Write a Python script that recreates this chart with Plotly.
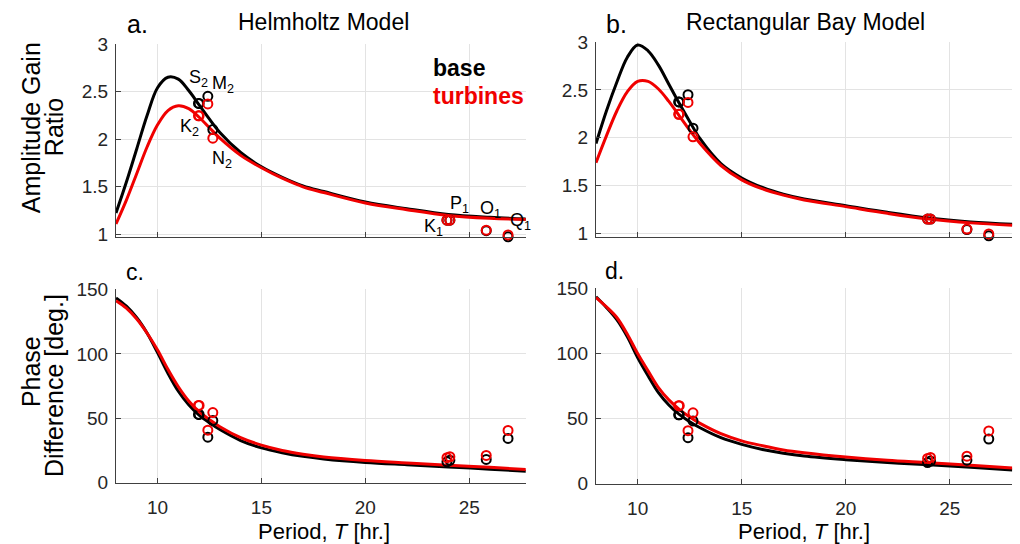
import plotly.graph_objects as go

# ---------------- data ----------------
T_curve = [8, 8.5, 9, 9.5, 10, 10.5, 11, 11.5, 12, 12.5, 13, 14, 15, 16, 17, 18, 20, 22, 24, 26, 28]

helm_amp_base = [1.225, 1.55, 1.90, 2.25, 2.54, 2.65, 2.63, 2.51, 2.36, 2.21, 2.07, 1.86, 1.71, 1.60, 1.51, 1.45, 1.34, 1.27, 1.21, 1.18, 1.16]
helm_amp_turb = [1.11, 1.36, 1.64, 1.92, 2.15, 2.30, 2.35, 2.32, 2.23, 2.12, 2.01, 1.83, 1.70, 1.59, 1.50, 1.44, 1.33, 1.26, 1.20, 1.17, 1.155]
rect_amp_base = [1.94, 2.28, 2.58, 2.84, 2.97, 2.91, 2.76, 2.56, 2.36, 2.17, 1.99, 1.73, 1.58, 1.48, 1.41, 1.36, 1.29, 1.22, 1.16, 1.12, 1.095]
rect_amp_turb = [1.74, 2.02, 2.28, 2.48, 2.59, 2.59, 2.51, 2.38, 2.23, 2.08, 1.94, 1.71, 1.56, 1.465, 1.40, 1.35, 1.28, 1.21, 1.15, 1.11, 1.085]

helm_ph_base = [143.4, 137.0, 128.0, 116.0, 101.0, 85.0, 71.0, 60.5, 52.5, 46.5, 41.3, 32.8, 27.1, 23.3, 20.5, 18.5, 15.8, 14.0, 12.3, 10.6, 8.8]
helm_ph_turb = [141.3, 135.5, 127.0, 116.0, 103.0, 88.0, 74.5, 63.5, 55.2, 49.0, 43.5, 35.0, 29.2, 25.1, 22.2, 20.0, 17.3, 15.4, 13.6, 12.0, 10.1]
rect_ph_base = [143.6, 135.4, 126.0, 113.0, 97.0, 83.0, 70.0, 60.5, 53.3, 47.7, 43.0, 35.4, 30.3, 26.4, 23.5, 21.3, 18.5, 16.3, 14.6, 12.8, 10.6]
rect_ph_turb = [143.0, 135.9, 127.7, 115.0, 100.0, 86.7, 73.8, 64.4, 57.2, 51.3, 46.4, 38.5, 33.0, 29.2, 26.0, 23.8, 20.5, 18.0, 16.2, 14.2, 12.2]

constituents = ["K2", "S2", "M2", "N2", "K1", "P1", "O1", "Q1"]
periods = [11.97, 12.00, 12.42, 12.66, 23.93, 24.07, 25.82, 26.87]
obs_amp_base = [2.375, 2.375, 2.45, 2.10, 1.15, 1.15, 1.04, 0.975]
obs_amp_turb = [2.245, 2.245, 2.37, 2.01, 1.15, 1.15, 1.045, 0.995]
obs_ph_base = [53.0, 53.0, 35.4, 48.3, 16.3, 17.5, 18.1, 34.4]
obs_ph_turb = [60.0, 60.0, 40.8, 54.5, 19.5, 20.2, 21.2, 40.6]

x_ticks = [10, 15, 20, 25]
amp_ticks = [1, 1.5, 2, 2.5, 3]
amp_tick_text = ["1", "1.5", "2", "2.5", "3"]
ph_ticks = [0, 50, 100, 150]

# ---------------- figure ----------------
W, H = 1020, 544
FONT = "Liberation Sans, Arial, sans-serif"
BLACK = "#000000"
RED = "#f00000"
AX = "#404040"
GRID = "#e3e3e3"

fig = go.Figure()

panels = [
    ("x", "y", helm_amp_base, helm_amp_turb, obs_amp_base, obs_amp_turb),
    ("x2", "y2", rect_amp_base, rect_amp_turb, obs_amp_base, obs_amp_turb),
    ("x3", "y3", helm_ph_base, helm_ph_turb, obs_ph_base, obs_ph_turb),
    ("x4", "y4", rect_ph_base, rect_ph_turb, obs_ph_base, obs_ph_turb),
]

for xa, ya, cb, ct, ob, ot in panels:
    fig.add_trace(go.Scatter(x=T_curve, y=cb, mode="lines", xaxis=xa, yaxis=ya,
                             line=dict(color=BLACK, width=3, shape="spline", smoothing=1.0),
                             showlegend=False, hoverinfo="skip"))
    fig.add_trace(go.Scatter(x=T_curve, y=ct, mode="lines", xaxis=xa, yaxis=ya,
                             line=dict(color=RED, width=3, shape="spline", smoothing=1.0),
                             showlegend=False, hoverinfo="skip"))
    fig.add_trace(go.Scatter(x=periods, y=ob, mode="markers", xaxis=xa, yaxis=ya,
                             marker=dict(symbol="circle-open", size=9, color=BLACK, line=dict(width=2, color=BLACK)),
                             cliponaxis=False, showlegend=False, text=constituents))
    fig.add_trace(go.Scatter(x=periods, y=ot, mode="markers", xaxis=xa, yaxis=ya,
                             marker=dict(symbol="circle-open", size=9, color=RED, line=dict(width=2, color=RED)),
                             cliponaxis=False, showlegend=False, text=constituents))


# the photographed page is drawn with a small vertical offset/compression;
# positions below are given in target-picture pixels and mapped here
def fy(v):
    return (v - 8.85) / 0.9615


def px(v):
    return v / W


def py(v):
    return 1 - fy(v) / H


TICKFONT = dict(family=FONT, size=19, color="#262626")
common_x = dict(showline=True, linecolor=AX, linewidth=1, mirror=False,
                showgrid=True, gridcolor=GRID, gridwidth=1, zeroline=False,
                ticks="inside", ticklen=5, tickcolor=AX, tickvals=x_ticks,
                tickfont=TICKFONT)
common_y = dict(showline=True, linecolor=AX, linewidth=1, mirror=False,
                showgrid=True, gridcolor=GRID, gridwidth=1, zeroline=False,
                ticks="inside", ticklen=5, tickcolor=AX,
                tickfont=TICKFONT, ticklabelstandoff=3)

L_DOM = [116 / W, 525.7 / W]
R_DOM = [596 / W, 1012.3 / W]

fig.update_layout(
    width=W, height=H,
    margin=dict(l=0, r=0, t=0, b=0),
    paper_bgcolor="white", plot_bgcolor="white",
    font=dict(family=FONT, color="#000000", size=19),
    xaxis=dict(domain=L_DOM, range=[8, 27.72], anchor="y", showticklabels=False, **common_x),
    xaxis2=dict(domain=R_DOM, range=[8, 28.0], anchor="y2", showticklabels=False, **common_x),
    xaxis3=dict(domain=L_DOM, range=[8, 27.72], anchor="y3", showticklabels=True, ticklabelstandoff=7, **common_x),
    xaxis4=dict(domain=R_DOM, range=[8, 28.0], anchor="y4", showticklabels=True, ticklabelstandoff=7, **common_x),
    yaxis=dict(domain=[py(236), py(42.7)], range=[0.972, 3], anchor="x",
               tickvals=amp_ticks, ticktext=amp_tick_text, **common_y),
    yaxis2=dict(domain=[py(236), py(41)], range=[0.961, 3], anchor="x2",
                tickvals=amp_ticks, ticktext=amp_tick_text, **common_y),
    yaxis3=dict(domain=[py(481.7), py(288.3)], range=[0, 150], anchor="x3",
                tickvals=ph_ticks, **common_y),
    yaxis4=dict(domain=[py(482.7), py(287.3)], range=[0, 150], anchor="x4",
                tickvals=ph_ticks, **common_y),
)

ann = []


def text(x, y, t, size, xanchor="center", yanchor="middle", angle=0, color="#000000", bold=False):
    s = "<b>%s</b>" % t if bold else t
    yy = min(py(y), 1 - 536.0 / H) if y > 520 else py(y)
    ann.append(dict(x=px(x), y=yy, xref="paper", yref="paper", text=s, showarrow=False,
                    xanchor=xanchor, yanchor=yanchor, textangle=angle,
                    font=dict(family=FONT, size=size, color=color)))


# titles and panel letters
text(323, 21, "Helmholtz Model", 23)
text(805, 21, "Rectangular Bay Model", 23)
text(137, 23, "a.", 25)
text(616, 23, "b.", 25)
text(135, 271, "c.", 23)
text(614, 270, "d.", 23)

# axis titles (one annotation per line)
text(31, 127, "Amplitude Gain", 25, angle=-90)
text(54, 126, "Ratio", 25, angle=-90)
text(31, 371, "Phase", 25, angle=-90)
text(54, 385, "Difference [deg.]", 25, angle=-90)
text(324, 530, "Period, <i>T</i> [hr.]", 22)
text(804, 530, "Period, <i>T</i> [hr.]", 22)

# legend text
text(431, 67, "base", 23, xanchor="left", bold=True)
text(431, 95, "turbines", 23, xanchor="left", color=RED, bold=True)

# constituent labels (panel a)
labels = [("S", "2", 186.5, 77), ("M", "2", 209.5, 83), ("K", "2", 177.5, 126),
          ("N", "2", 209.5, 158), ("P", "1", 447.5, 203), ("O", "1", 477.5, 208),
          ("K", "1", 421.5, 226), ("Q", "1", 507.5, 220)]
for a, b, x, y in labels:
    text(x, y, "%s<sub>%s</sub>" % (a, b), 18, xanchor="left")

fig.update_layout(annotations=ann)

PAGE_JS = (
    "var h=document.documentElement, b=document.body;"
    "h.style.margin='0';h.style.padding='0';h.style.overflow='hidden';"
    "b.style.margin='0';b.style.padding='0';b.style.overflow='hidden';"
)

fig.write_html("out.html", config={"displayModeBar": False}, post_script=PAGE_JS)
